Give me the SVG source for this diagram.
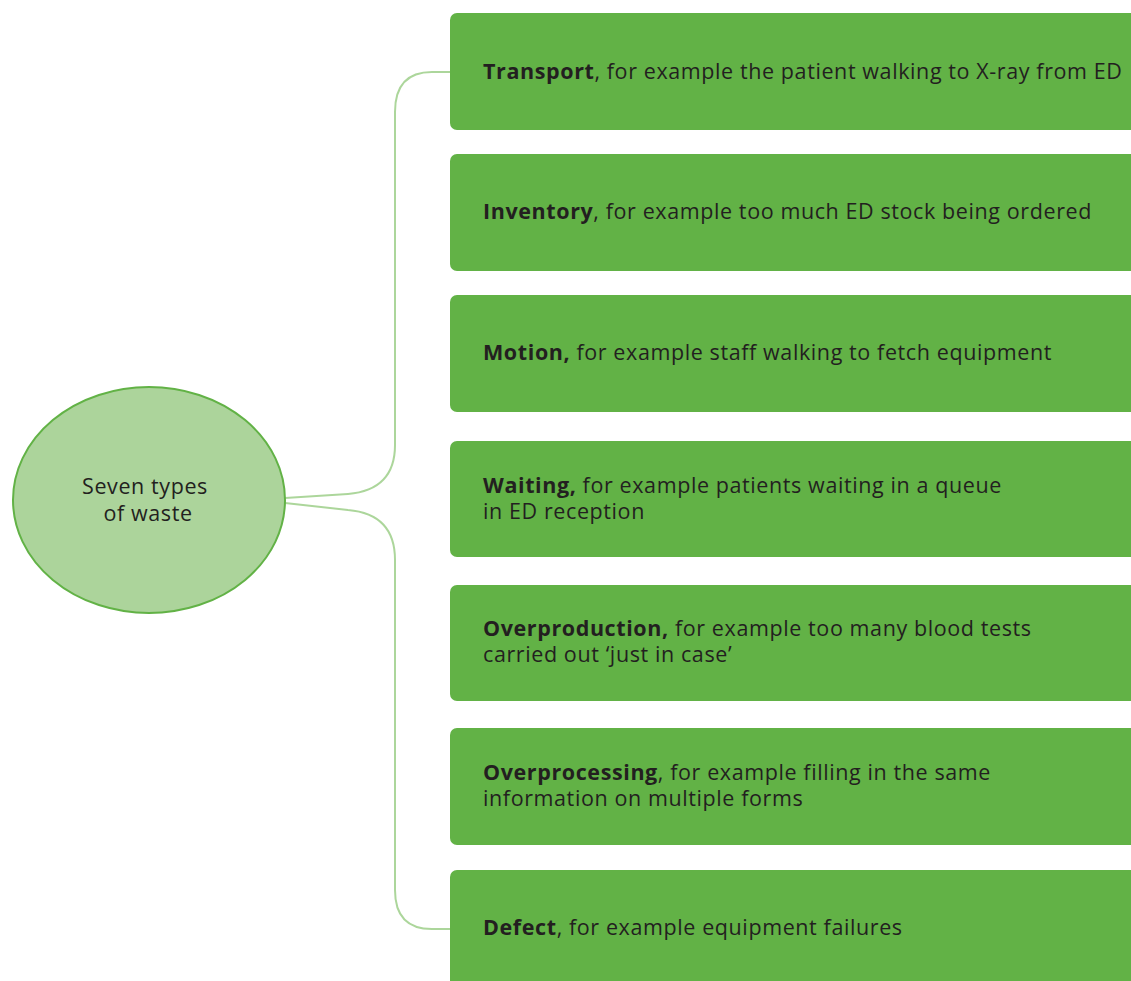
<svg xmlns="http://www.w3.org/2000/svg" width="1131" height="981" viewBox="0 0 1131 981">
  <style>
    .box { fill: #62b246; }
    .lbl { font-family: "Open Sans", "Liberation Sans", sans-serif; font-size: 21.5px; letter-spacing: 0.6px; fill: #231f20; }
    .lbl tspan.b { font-weight: bold; }
    .conn { fill: none; stroke: #acd69b; stroke-width: 2; }
  </style>
  <rect width="1131" height="981" fill="#ffffff"/>

  <g id="connectors">
    <path class="conn" d="M285,498 L348,494 Q395,490 395,445 L395,112 Q395,72 432,72 L450,72"/>
    <path class="conn" d="M285,503 L348,510 Q395,514 395,560 L395,890 Q395,929 432,929 L450,929"/>
  </g>

  <g id="center">
    <ellipse cx="149" cy="500" rx="136" ry="113" fill="#acd49b" stroke="#62b246" stroke-width="2"/>
    <text class="lbl" text-anchor="middle" x="145" y="494">Seven types</text>
    <text class="lbl" text-anchor="middle" x="148" y="521">of waste</text>
  </g>

  <g id="transport">
    <rect class="box" x="450" y="13" width="700" height="117" rx="7"/>
    <text class="lbl" x="483" y="79"><tspan class="b">Transport</tspan>, for example the patient walking to X-ray from ED</text>
  </g>
  <g id="inventory">
    <rect class="box" x="450" y="154" width="700" height="117" rx="7"/>
    <text class="lbl" x="483" y="219"><tspan class="b">Inventory</tspan>, for example too much ED stock being ordered</text>
  </g>
  <g id="motion">
    <rect class="box" x="450" y="295" width="700" height="117" rx="7"/>
    <text class="lbl" x="483" y="360"><tspan class="b">Motion,</tspan> for example staff walking to fetch equipment</text>
  </g>
  <g id="waiting">
    <rect class="box" x="450" y="441" width="700" height="116" rx="7"/>
    <text class="lbl" x="483" y="493"><tspan class="b">Waiting,</tspan> for example patients waiting in a queue</text>
    <text class="lbl" x="483" y="519">in ED reception</text>
  </g>
  <g id="overproduction">
    <rect class="box" x="450" y="585" width="700" height="116" rx="7"/>
    <text class="lbl" x="483" y="636"><tspan class="b">Overproduction,</tspan> for example too many blood tests</text>
    <text class="lbl" x="483" y="662">carried out ‘just in case’</text>
  </g>
  <g id="overprocessing">
    <rect class="box" x="450" y="728" width="700" height="117" rx="7"/>
    <text class="lbl" x="483" y="780"><tspan class="b">Overprocessing</tspan>, for example filling in the same</text>
    <text class="lbl" x="483" y="806">information on multiple forms</text>
  </g>
  <g id="defect">
    <rect class="box" x="450" y="870" width="700" height="130" rx="7"/>
    <text class="lbl" x="483" y="935"><tspan class="b">Defect</tspan>, for example equipment failures</text>
  </g>
</svg>
